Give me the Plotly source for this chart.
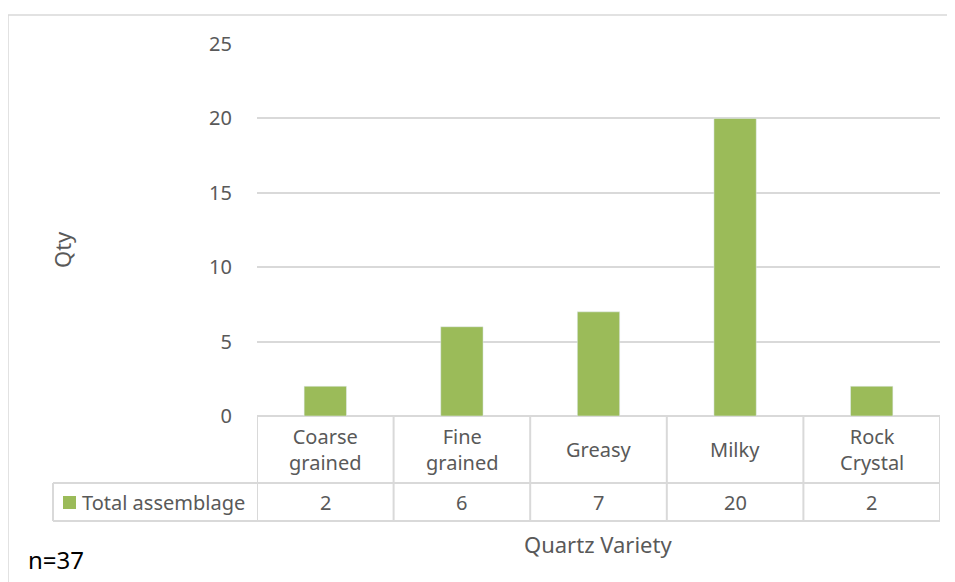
import plotly.graph_objects as go

# data
categories = ["Coarse grained", "Fine grained", "Greasy", "Milky", "Rock Crystal"]
labels = ["Coarse<br>grained", "Fine<br>grained", "Greasy", "Milky", "Rock<br>Crystal"]
qty = [2, 6, 7, 20, 2]
series_name = "Total assemblage"
y_ticks = [0, 5, 10, 15, 20, 25]

BAR = "#9bbb59"
GRID = "#d9d9d9"
TXT = "#595959"
FONT = "Noto Sans"

# page body has an 8px margin, so work in page pixels and shift by OFF
OFF = 8
W, H = 946, 574
L, T = 257 - OFF, 44 - OFF
plot_right = 940 - OFF
plot_bottom = 416 - OFF
R = W - plot_right
B = H - plot_bottom
pw, ph = W - L - R, H - T - B


def px_x(x):
    return (x - OFF - L) / pw


def px_y(y):
    return (plot_bottom - (y - OFF)) / ph


fig = go.Figure()
fig.add_trace(go.Bar(x=list(range(len(categories))), y=qty, marker_color=BAR,
                     width=0.31, name=series_name, hovertext=categories))

shapes = []
n = len(categories)
# vertical table lines at category boundaries
for i in range(n + 1):
    shapes.append(dict(type="line", xref="x", yref="paper", x0=i - 0.5, x1=i - 0.5,
                       y0=0, y1=px_y(521), line=dict(color=GRID, width=2)))
# horizontal table lines
for yy in (483, 521):
    shapes.append(dict(type="line", xref="paper", yref="paper", x0=px_x(53), x1=1,
                       y0=px_y(yy), y1=px_y(yy), line=dict(color=GRID, width=2)))
shapes.append(dict(type="line", xref="paper", yref="paper", x0=px_x(53), x1=px_x(53),
                   y0=px_y(483), y1=px_y(521), line=dict(color=GRID, width=2)))
# legend key
shapes.append(dict(type="rect", xref="paper", yref="paper", x0=px_x(63), x1=px_x(76),
                   y0=px_y(496), y1=px_y(509), fillcolor=BAR, line=dict(width=0)))
# chart outer border
shapes.append(dict(type="line", xref="paper", yref="paper", x0=px_x(8), x1=px_x(980),
                   y0=px_y(15), y1=px_y(15), line=dict(color=GRID, width=1.5)))
shapes.append(dict(type="line", xref="paper", yref="paper", x0=px_x(8), x1=px_x(8),
                   y0=px_y(15), y1=px_y(600), line=dict(color=GRID, width=1.5)))


def txt(x, y, text, size, xref="paper", xanchor="center", color=TXT, angle=0):
    return dict(x=x, y=y, xref=xref, yref="paper", text=text, showarrow=False,
                xanchor=xanchor, yanchor="middle", textangle=angle,
                font=dict(size=size, color=color, family=FONT))


ann = []
for i, (lab, v) in enumerate(zip(labels, qty)):
    ann.append(txt(i, px_y(450), lab, 20, xref="x"))
    ann.append(txt(i, px_y(502), str(v), 20, xref="x"))
ann.append(txt(px_x(80), px_y(502), series_name, 20, xanchor="left"))
ann.append(txt(px_x(598), px_y(544), "Quartz Variety", 22))
ann.append(txt(px_x(62), px_y(250), "Qty", 22, angle=-90))
ann.append(txt(px_x(26), px_y(559), "n=37", 24, xanchor="left", color="black"))

fig.update_layout(
    width=W, height=H, margin=dict(l=L, r=R, t=T, b=B, autoexpand=False),
    paper_bgcolor="white", plot_bgcolor="white", showlegend=False,
    shapes=shapes, annotations=ann,
    xaxis=dict(range=[-0.5, n - 0.5], showticklabels=False, showgrid=False, zeroline=False,
               showline=False, fixedrange=True),
    yaxis=dict(range=[0, 25], tickvals=y_ticks, showgrid=True, gridcolor=GRID, gridwidth=1.5,
               zeroline=True, zerolinecolor=GRID, zerolinewidth=2, showline=False,
               ticks="outside", ticklen=20, tickcolor="rgba(0,0,0,0)",
               tickfont=dict(size=20, color=TXT, family=FONT)),
)

fig.write_html("out.html")
